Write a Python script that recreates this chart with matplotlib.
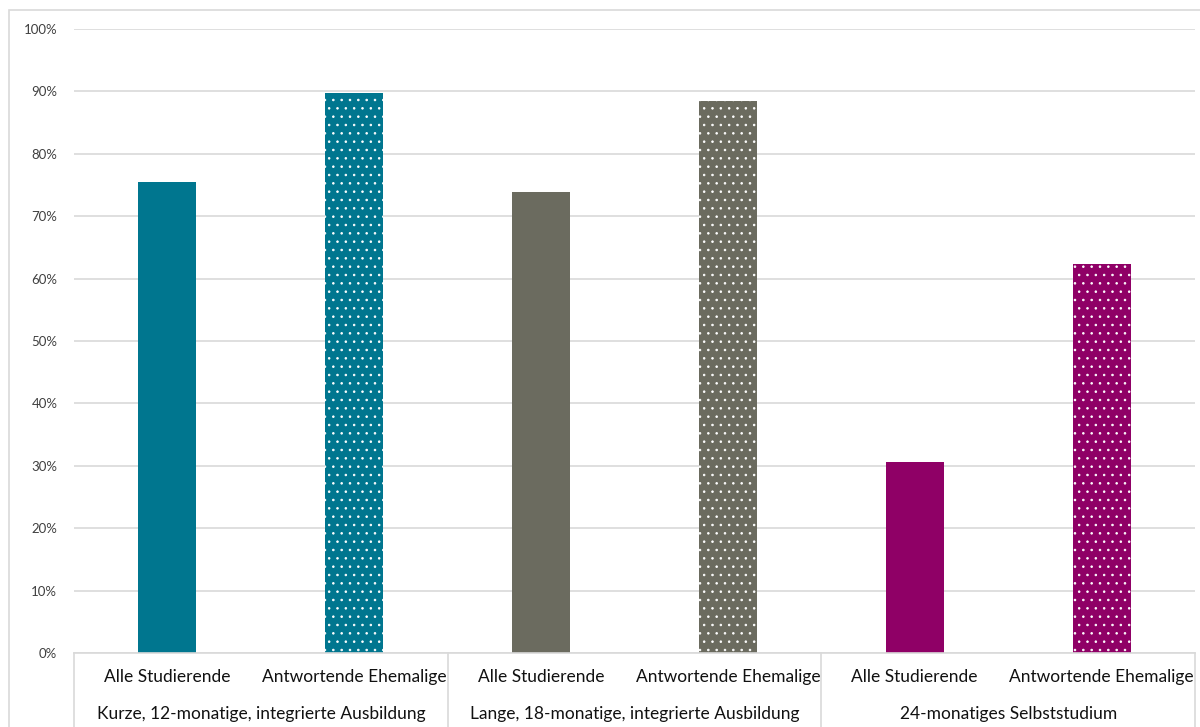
import numpy as np
import matplotlib.pyplot as plt
from matplotlib.patches import Rectangle
from matplotlib.ticker import PercentFormatter

plt.rcParams['font.family'] = ['Lato', 'DejaVu Sans']
plt.rcParams['hatch.linewidth'] = 0.6

groups = ["Kurze, 12-monatige, integrierte Ausbildung",
          "Lange, 18-monatige, integrierte Ausbildung",
          "24-monatiges Selbststudium"]
subgroups = ["Alle Studierende", "Antwortende Ehemalige"]
values = [0.755, 0.897, 0.739, 0.885, 0.306, 0.623]
colors = ["#00768f", "#00768f", "#6b6b5f", "#6b6b5f", "#8f0066", "#8f0066"]
dotted = [False, True, False, True, False, True]

grid_col = "#d9d9d9"

fig = plt.figure(figsize=(12, 7.27), dpi=100)
fig.patches.append(Rectangle((9 / 1200, -0.1), 1.2, 1.1 - 10 / 727,
                             transform=fig.transFigure, fill=False,
                             edgecolor=grid_col, linewidth=1.2))
ax = fig.add_axes([74 / 1200, 1 - 653 / 727, 1121 / 1200, 624 / 727])

x = np.arange(len(values))
for xi, v, c, d in zip(x, values, colors, dotted):
    if d:
        ax.bar(xi, v, width=0.31, color=c, edgecolor="white", linewidth=0,
               hatch="..", zorder=2)
    else:
        ax.bar(xi, v, width=0.31, color=c, linewidth=0, zorder=2)

ax.set_xlim(-0.5, len(values) - 0.5)
ax.set_ylim(0, 1)
ax.set_yticks(np.arange(0, 1.01, 0.1))
ax.yaxis.set_major_formatter(PercentFormatter(1, decimals=0))
ax.tick_params(axis="y", length=0, pad=12, labelsize=9.5, labelcolor="#404040")
ax.grid(axis="y", color=grid_col, linewidth=1.2, zorder=0)
ax.set_xticks([])
for s in ["top", "left", "right"]:
    ax.spines[s].set_visible(False)
ax.spines["bottom"].set_color(grid_col)
ax.spines["bottom"].set_linewidth(1.2)

# two-level category axis below the plot
trans = ax.get_xaxis_transform()
for b in [-0.5, 1.5, 3.5, 5.5]:
    ax.plot([b, b], [0, -0.2], transform=trans, color=grid_col,
            linewidth=1.2, clip_on=False)
for xi in x:
    ax.text(xi, -24 / 624, subgroups[xi % 2], transform=trans, ha="center",
            va="center", fontsize=12.5, color="#111111")
for gi, g in enumerate(groups):
    ax.text(2 * gi + 0.5, -61 / 624, g, transform=trans, ha="center",
            va="center", fontsize=12.5, color="#111111")

fig.savefig("out.png", dpi=100)
